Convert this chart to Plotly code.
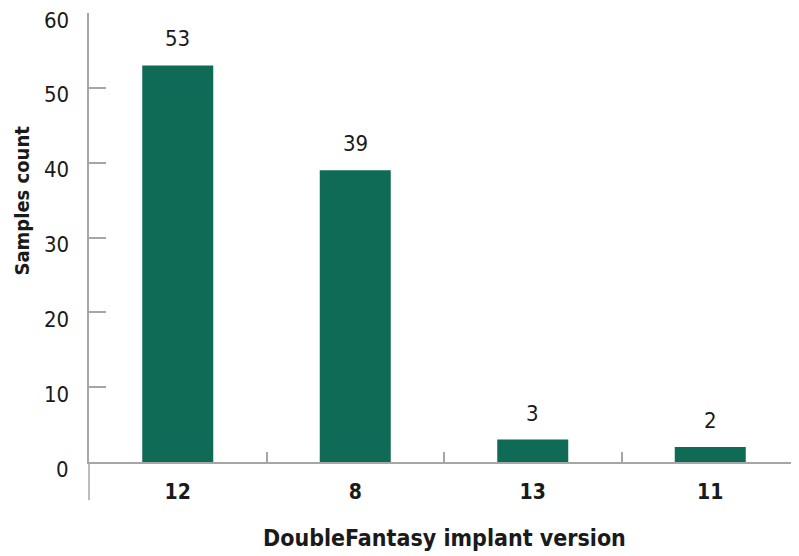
import plotly.graph_objects as go

categories = ["12", "8", "13", "11"]
counts = [53, 39, 3, 2]
y_ticks = [0, 10, 20, 30, 40, 50, 60]

FONT = "DejaVu Sans Condensed, Liberation Sans Narrow, sans-serif"
BAR = "#0f6b55"
AXIS = "#a6a6a6"
TXT = "#1a1a1a"

fig = go.Figure()
fig.add_trace(go.Bar(
    x=categories, y=counts, width=0.4,
    marker=dict(color=BAR, line=dict(width=0)),
    hoverinfo="skip",
))

# value labels above bars
for i, v in enumerate(counts):
    fig.add_annotation(x=i, y=v, text=str(v), showarrow=False,
                       yanchor="bottom", yshift=12,
                       font=dict(family=FONT, size=22, color=TXT))

# y tick labels (sit slightly below their tick marks, as in the reference)
for t in y_ticks:
    fig.add_annotation(xref="paper", yref="y", x=0, y=t, text=str(t), showarrow=False,
                       xanchor="right", yanchor="middle", xshift=-18, yshift=-7,
                       font=dict(family=FONT, size=22, color=TXT))

fig.add_annotation(xref="paper", yref="paper", x=0.5, y=-0.169,
                   text="<b>DoubleFantasy implant version</b>", showarrow=False,
                   yanchor="middle", font=dict(family=FONT, size=23, color=TXT))
fig.add_annotation(xref="paper", yref="paper", x=-0.094, y=0.583,
                   text="<b>Samples count</b>", textangle=-90, showarrow=False,
                   xanchor="center", yanchor="middle",
                   font=dict(family=FONT, size=20, color=TXT))

# y axis line extends below the x axis
fig.add_shape(type="line", xref="paper", yref="paper", x0=0, x1=0, y0=0, y1=-0.085,
              line=dict(color=AXIS, width=1.5))

fig.update_layout(
    width=791, height=548,
    margin=dict(l=81, r=0, t=5, b=94, autoexpand=False),
    plot_bgcolor="white", paper_bgcolor="white",
    showlegend=False,
    font=dict(family=FONT, color=TXT),
)
fig.update_xaxes(
    type="category", showgrid=False, showline=True, linecolor=AXIS, linewidth=1.5,
    ticks="inside", tickson="boundaries", ticklen=10, tickcolor=AXIS, tickwidth=1.5,
    tickfont=dict(family=FONT, size=21, color=TXT),
    tickprefix="<b>", ticksuffix="</b>", ticklabelstandoff=10,
    range=[-0.5, 3.5], automargin=False,
)
fig.update_yaxes(
    range=[0, 60], tickvals=y_ticks, showgrid=False, zeroline=False,
    showline=True, linecolor=AXIS, linewidth=1.5,
    ticks="inside", ticklen=17, tickcolor=AXIS, tickwidth=1.5,
    showticklabels=False, automargin=False,
)

fig.write_html("out.html")
